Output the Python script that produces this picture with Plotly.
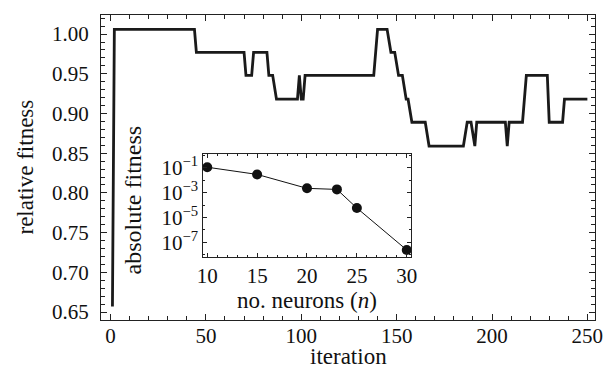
import plotly.graph_objects as go

# main trace: relative fitness vs iteration
iteration = [1, 2, 44, 45, 70, 71, 74, 75, 82, 83, 85, 87, 98, 99, 100, 101, 102,
             138, 140, 145, 147, 149, 151, 153, 155, 156, 158, 165, 167, 185, 187,
             189, 191, 192, 207, 208, 209, 216, 218, 229, 230, 237, 238, 250]
rel_fitness = [0.657, 1.006, 1.006, 0.977, 0.977, 0.948, 0.948, 0.977, 0.977, 0.948,
               0.948, 0.918, 0.918, 0.948, 0.918, 0.918, 0.948,
               0.948, 1.006, 1.006, 0.977, 0.977, 0.948, 0.948, 0.918, 0.918, 0.889,
               0.889, 0.859, 0.859, 0.889, 0.889, 0.859, 0.889, 0.889, 0.859, 0.889,
               0.889, 0.948, 0.948, 0.889, 0.889, 0.918, 0.918]

# inset: absolute fitness vs number of neurons
neurons = [10, 15, 20, 23, 25, 30]
abs_fitness = [0.11, 0.029, 0.0022, 0.0018, 5.7e-5, 2.4e-8]

x_ticks = [0, 50, 100, 150, 200, 250]
y_ticks = [0.65, 0.70, 0.75, 0.80, 0.85, 0.90, 0.95, 1.00]
y_ticktext = ["0.65", "0.70", "0.75", "0.80", "0.85", "0.90", "0.95", "1.00"]
inset_x_ticks = [10, 15, 20, 25, 30]
inset_y_ticks = [1e-1, 1e-3, 1e-5, 1e-7]
inset_y_ticktext = ["10<sup>−1</sup>", "10<sup>−3</sup>", "10<sup>−5</sup>", "10<sup>−7</sup>"]

FONT = "Liberation Serif"
TICK = 21
TITLE = 23

# layout geometry (pixels)
W, H = 605, 376
ML, MR, MT, MB = 101, 10, 15, 56
PW, PH = W - ML - MR, H - MT - MB
INSET_X = [0.207, 0.627]
INSET_Y = [0.206, 0.544]

fig = go.Figure()
fig.add_trace(go.Scatter(x=iteration, y=rel_fitness, mode="lines",
                         line=dict(color="#1a1a1a", width=2.8), xaxis="x", yaxis="y",
                         showlegend=False))
fig.add_trace(go.Scatter(x=neurons, y=abs_fitness, mode="lines+markers",
                         line=dict(color="#111111", width=1),
                         marker=dict(color="#111111", size=10),
                         xaxis="x2", yaxis="y2", showlegend=False, cliponaxis=False))

axis_common = dict(showline=True, linecolor="#222", linewidth=1, mirror="allticks",
                   ticks="inside", tickcolor="#222", showgrid=False, zeroline=False,
                   automargin=False,
                   tickfont=dict(family=FONT, size=TICK, color="#111"))

fig.update_layout(
    width=W, height=H,
    margin=dict(l=ML, r=MR, t=MT, b=MB),
    paper_bgcolor="white", plot_bgcolor="white",
    font=dict(family=FONT, color="#111"),
    xaxis=dict(range=[-5, 254], tickvals=x_ticks, ticklen=6, ticklabelstandoff=-3,
               minor=dict(dtick=10, tick0=0, ticklen=4, ticks="inside", tickcolor="#222"),
               domain=[0, 1], **axis_common),
    yaxis=dict(range=[0.64, 1.024], tickvals=y_ticks, ticktext=y_ticktext, ticklen=6,
               ticklabelstandoff=7,
               minor=dict(dtick=0.01, tick0=0.65, ticklen=4, ticks="inside", tickcolor="#222"),
               domain=[0, 1], **axis_common),
    xaxis2=dict(range=[9.6, 30.4], tickvals=inset_x_ticks, ticklen=4,
                minor=dict(dtick=1, tick0=10, ticklen=2, ticks="inside", tickcolor="#222"),
                domain=INSET_X, anchor="y2", **axis_common),
    yaxis2=dict(type="log", range=[-8.2, 0.1], tickvals=inset_y_ticks, ticktext=inset_y_ticktext,
                ticklen=4,
                minor=dict(tickvals=[10**k for k in range(-8, 1)], ticklen=2, ticks="inside", tickcolor="#222"),
                domain=INSET_Y, anchor="x2", **axis_common),
)

title_font = dict(family=FONT, size=TITLE, color="#111")
fig.add_annotation(text="iteration", xref="paper", yref="paper", x=0.5, y=0,
                   yshift=-(356 - (H - MB)), xanchor="center", yanchor="middle",
                   showarrow=False, font=title_font)
fig.add_annotation(text="relative fitness", xref="paper", yref="paper", x=0, y=0.5,
                   xshift=25 - ML, xanchor="center", yanchor="middle", textangle=-90,
                   showarrow=False, font=title_font)
fig.add_annotation(text="no. neurons (<i>n</i>)", xref="paper", yref="paper",
                   x=(INSET_X[0] + INSET_X[1]) / 2, y=0, yshift=-(300 - (H - MB)),
                   xanchor="center", yanchor="middle", showarrow=False, font=title_font)
fig.add_annotation(text="absolute fitness", xref="paper", yref="paper",
                   x=INSET_X[0], y=(H - MB - 200.5) / PH, xshift=132 - (ML + INSET_X[0] * PW),
                   xanchor="center", yanchor="middle", textangle=-90,
                   showarrow=False, font=dict(family=FONT, size=24, color="#111"))
fig.write_html("out.html", config={"displayModeBar": False},
               post_script="document.body.style.margin='0';document.body.style.overflow='hidden';")
